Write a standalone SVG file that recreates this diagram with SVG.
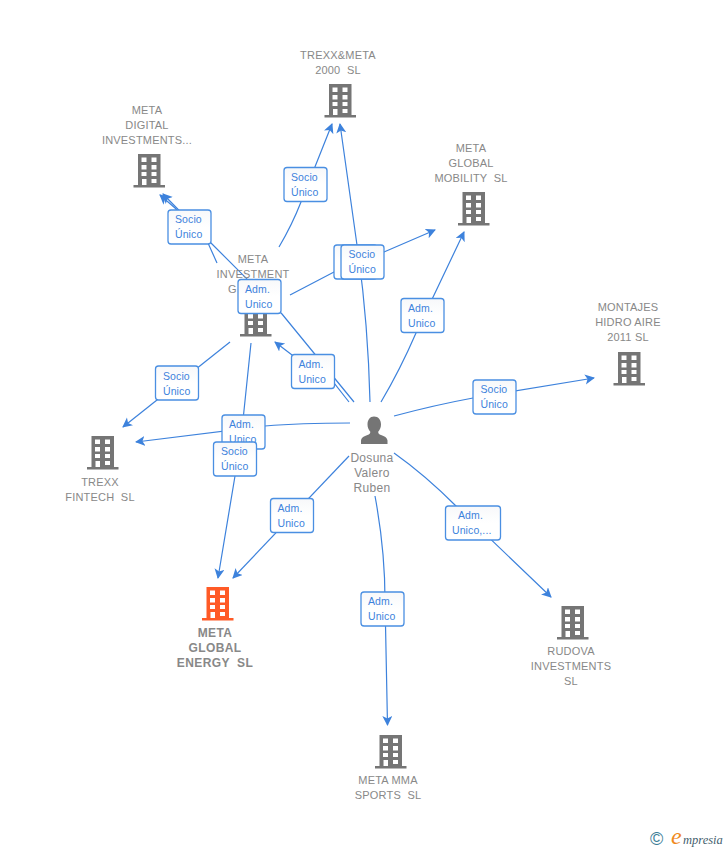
<svg xmlns="http://www.w3.org/2000/svg" width="728" height="850" viewBox="0 0 728 850">
<style>
.l{font:11px "Liberation Sans",Arial,sans-serif;fill:#888;text-anchor:middle;white-space:pre;letter-spacing:.2px}
.b{font-weight:bold;font-size:12px;letter-spacing:.4px}
.p{font-size:12px;letter-spacing:.3px}
.c path{fill:none;stroke:#3d82dc;stroke-width:1.2;marker-end:url(#a)}
.box rect{fill:url(#g);stroke:#4a8fe2;stroke-width:1.3}
.box text{font:10.5px "Liberation Sans",Arial,sans-serif;fill:#3d82dc;letter-spacing:.1px}
</style>
<defs>
<linearGradient id="g" x1="0" y1="0" x2="0" y2="1"><stop offset="0" stop-color="#f7f8fa"/><stop offset=".5" stop-color="#fff"/></linearGradient>
<marker id="a" markerUnits="userSpaceOnUse" markerWidth="12" markerHeight="12" refX="9" refY="5" orient="auto"><path d="M0 0L10 5L0 10L2.500 5Z" fill="#3d82dc"/></marker>
<symbol id="t" overflow="visible" viewBox="0 0 32 34" width="32" height="34">
<path fill-rule="evenodd" d="M4.500 0H27V31H31.500V33.500H0V31H4.500ZM8 3.500V8H13V3.500ZM18 3.500V8H23V3.500ZM8 11V15.500H13V11ZM18 11V15.500H23V11ZM8 18V22H13V18ZM18 18V22H23V18ZM8.500 25V31H13V25ZM18 25V29H23V25Z"/>
</symbol>
</defs>
<rect width="728" height="850" fill="#fff"/>
<g class="c" id="connectors">
<path d="M217 263L208 243L175 208L160 195"/>
<path d="M354 402L282 314L212 244L163 194"/>
<path d="M349 402L334 383L313 371L275 342"/>
<path d="M279 247Q292 225 301 202L332 124"/>
<path d="M370 402Q368 320 357 245L340 124"/>
<path d="M290 295L334 272L384 252L435 230"/>
<path d="M381 402Q400 370 416 333L464 232"/>
<path d="M394 416Q435 405 473 398L594 378"/>
<path d="M394 453Q425 475 456 506L551 597"/>
<path d="M375 496Q385 550 385 600L387.500 725"/>
<path d="M349 456L233 578"/>
<path d="M251 343L243 420L235 476L218 578"/>
<path d="M350 423Q300 423 265 426L136 442"/>
<path d="M230 342L123 427"/>
</g>
<g id="n1"><use href="#t" x="324.500" y="84" fill="#757575"/><text class="l" x="338" y="59">TREXX&amp;META</text><text class="l" x="338" y="74">2000  SL</text></g>
<g id="n2"><use href="#t" x="133.500" y="154" fill="#757575"/><text class="l" x="147" y="114">META</text><text class="l" x="147" y="129">DIGITAL</text><text class="l" x="147" y="144">INVESTMENTS...</text></g>
<g id="n3"><use href="#t" x="240" y="303" fill="#757575"/><text class="l" x="253" y="263">META</text><text class="l" x="253" y="278">INVESTMENT</text><text class="l" x="228" y="293" style="text-anchor:start">G</text></g>
<g id="n4"><use href="#t" x="458" y="192" fill="#757575"/><text class="l" x="471" y="152">META</text><text class="l" x="471" y="167">GLOBAL</text><text class="l" x="471" y="182">MOBILITY  SL</text></g>
<g id="n5"><use href="#t" x="613.500" y="352" fill="#757575"/><text class="l" x="628" y="311">MONTAJES</text><text class="l" x="628" y="326">HIDRO AIRE</text><text class="l" x="628" y="341">2011 SL</text></g>
<g id="n6"><use href="#t" x="87" y="436" fill="#757575"/><text class="l" x="100" y="486">TREXX</text><text class="l" x="100" y="501">FINTECH  SL</text></g>
<g id="n7"><use href="#t" x="202" y="587" fill="#ff5a26"/><text class="l b" x="215" y="637">META</text><text class="l b" x="215" y="652">GLOBAL</text><text class="l b" x="215" y="667">ENERGY  SL</text></g>
<g id="n8"><use href="#t" x="557" y="606" fill="#757575"/><text class="l" x="571" y="655">RUDOVA</text><text class="l" x="571" y="670">INVESTMENTS</text><text class="l" x="571" y="685">SL</text></g>
<g id="n9"><use href="#t" x="375" y="735" fill="#757575"/><text class="l" x="388" y="784">META MMA</text><text class="l" x="388" y="799">SPORTS  SL</text></g>
<g id="n10"><path fill="#757575" d="M374 416.500c4.500 0 7 3.500 7 8 0 3-1.200 5.500-2.800 7.200 0 1.800.8 2.500 2.800 3.300 3.500 1.300 6 2.300 6.500 5.500V444H361v-3.500c.5-3.200 3-4.200 6.500-5.500 2-.8 2.800-1.500 2.800-3.300-1.600-1.700-2.800-4.200-2.800-7.200 0-4.500 2.500-8 6.500-8z"/><text class="l p" x="372" y="462">Dosuna</text><text class="l p" x="372" y="477">Valero</text><text class="l p" x="372" y="492">Ruben</text></g>
<g class="box" id="labels">
<g><rect x="284" y="167.500" width="43" height="34" rx="3"/><text x="291" y="181">Socio</text><text x="291" y="196">Único</text></g>
<g><rect x="168" y="210" width="43" height="34" rx="3"/><text x="175" y="223">Socio</text><text x="175" y="238">Único</text></g>
<g><rect x="334" y="245" width="43" height="34" rx="3"/></g>
<g><rect x="341" y="245" width="43" height="34" rx="3"/><text x="348.500" y="258">Socio</text><text x="348.500" y="273">Único</text></g>
<g><rect x="238" y="279.500" width="43" height="34" rx="3"/><text x="245" y="293">Adm.</text><text x="245" y="308">Unico</text></g>
<g><rect x="401" y="298.500" width="43" height="34" rx="3"/><text x="408" y="312">Adm.</text><text x="408" y="327">Unico</text></g>
<g><rect x="291.500" y="354.500" width="43" height="34" rx="3"/><text x="298.500" y="368">Adm.</text><text x="298.500" y="383">Unico</text></g>
<g><rect x="155.500" y="366" width="43" height="34" rx="3"/><text x="163" y="380">Socio</text><text x="163" y="395">Único</text></g>
<g><rect x="473" y="380" width="43" height="34" rx="3"/><text x="480.500" y="393">Socio</text><text x="480.500" y="408">Único</text></g>
<g><rect x="222" y="415" width="43" height="34" rx="3"/><text x="229" y="428">Adm.</text><text x="229" y="443">Unico</text></g>
<g><rect x="213.500" y="442" width="43" height="34" rx="3"/><text x="221" y="455">Socio</text><text x="221" y="470">Único</text></g>
<g><rect x="270.500" y="498.500" width="43" height="34" rx="3"/><text x="277.500" y="512">Adm.</text><text x="277.500" y="527">Unico</text></g>
<g><rect x="445.500" y="506" width="55" height="34" rx="3"/><text x="458" y="519">Adm.</text><text x="452" y="534">Unico,...</text></g>
<g><rect x="361" y="592" width="43" height="34" rx="3"/><text x="368" y="605">Adm.</text><text x="368" y="620">Unico</text></g>
</g>
<g id="logo"><text x="650" y="845" style="font:18px 'Liberation Sans',sans-serif;fill:#3c7d96">©</text><text x="671" y="844" style="font:italic 24px 'Liberation Serif',serif;fill:#f08a1d">e</text><text x="683" y="844" style="font:italic 12.500px 'Liberation Serif',serif;fill:#44606e">mpresia</text></g>
</svg>
